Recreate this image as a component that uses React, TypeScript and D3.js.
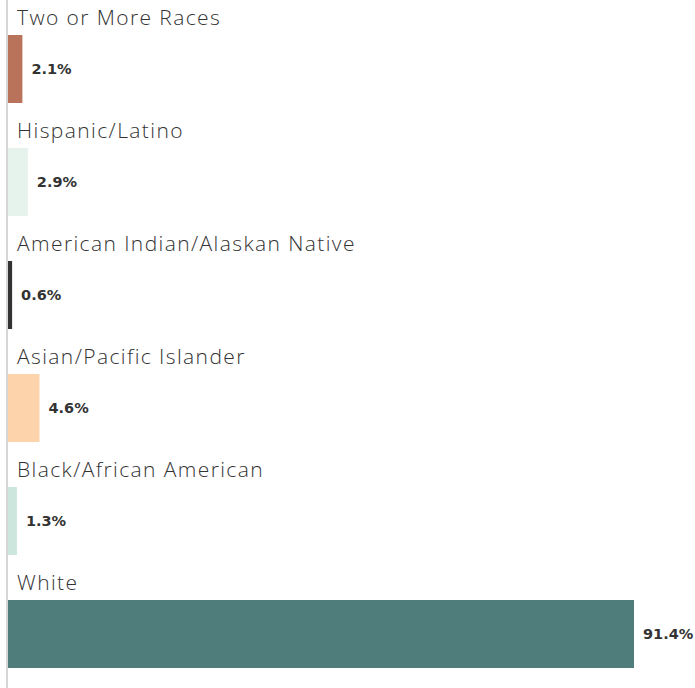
import React from "react";
import * as d3 from "d3";

const categories = [
  "Two or More Races",
  "Hispanic/Latino",
  "American Indian/Alaskan Native",
  "Asian/Pacific Islander",
  "Black/African American",
  "White",
];
const values = [2.1, 2.9, 0.6, 4.6, 1.3, 91.4];
const colors = ["#b8735a", "#e5f3ec", "#333333", "#fdd3ac", "#cce6de", "#4e7d7b"];

const W = 695;
const H = 688;

export default function App() {
  const x = d3.scaleLinear().domain([0, 91.4]).range([8, 634]);
  const y = d3.scaleBand<string>().domain(categories).range([0, 678]).padding(0);
  const labelFont = "'Open Sans', 'Noto Sans', sans-serif";
  const valueFont = "'DejaVu Sans', sans-serif";
  return (
    <div style={{ position: "absolute", left: 0, top: 0 }}>
      <svg width={W} height={H} style={{ display: "block" }}>
        <rect x={0} y={0} width={W} height={H} fill="#fff" />
        {categories.map((c, i) => {
          const by = (y(c) as number) + 35;
          return (
            <g key={c}>
              <text
                x={17}
                y={(y(c) as number) + 25}
                fontFamily={labelFont}
                fontSize={21}
                fontWeight={300}
                letterSpacing={1.4}
                fill="#333"
              >
                {c}
              </text>
              <rect x={x(0)} y={by} width={x(values[i]) - x(0)} height={68} fill={colors[i]} />
              <text
                x={x(values[i]) + 9}
                y={by + 34}
                dy="0.36em"
                fontFamily={valueFont}
                fontSize={14.5}
                fontWeight={700}
                fill="#333"
              >
                {values[i].toFixed(1)}%
              </text>
            </g>
          );
        })}
        <line x1={7} x2={7} y1={0} y2={H} stroke="#d6d6d6" strokeWidth={2} />
      </svg>
    </div>
  );
}
